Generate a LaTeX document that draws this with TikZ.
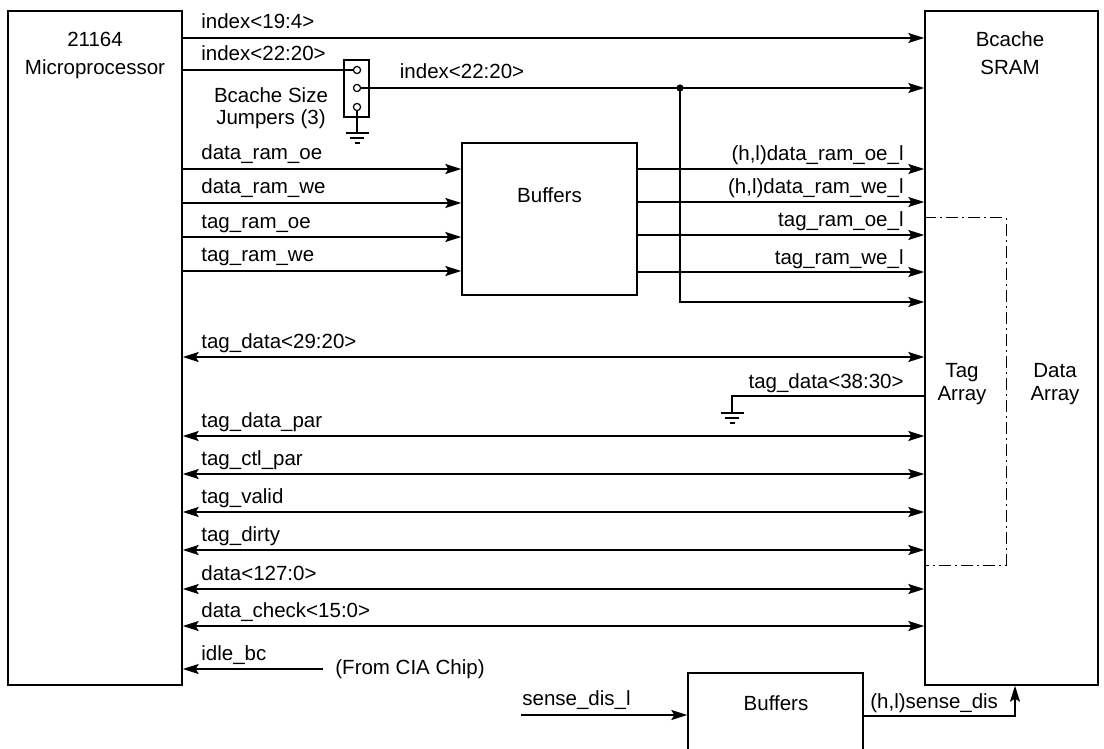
\documentclass[tikz,border=0pt]{standalone}
\usepackage{fontspec}
\setmainfont{Liberation Sans}
\usetikzlibrary{arrows.meta, positioning}

\tikzset{
	box/.style={draw, line width=0.7pt, inner sep=0pt},
	wire/.style={line width=0.7pt},
	sig/.style={wire, -{Stealth[length=8pt,width=5pt,inset=1.5pt]}},
	bus/.style={wire, {Stealth[length=8pt,width=5pt,inset=1.5pt]}-{Stealth[length=8pt,width=5pt,inset=1.5pt]}},
	lbl/.style={anchor=base west, inner sep=0pt, xshift=9pt, yshift=4.5pt},
	rlbl/.style={anchor=base east, inner sep=0pt, xshift=-10pt, yshift=4pt},
	pin/.style={circle, draw, fill=white, line width=0.6pt, inner sep=0pt, minimum size=3.6pt},
}

\begin{document}
\begin{tikzpicture}[x=0.5pt, y=-0.5pt, font=\fontsize{10.25}{12}\selectfont]
	\useasboundingbox (0,0) rectangle (1104,749);
	\node[box, minimum width=87pt, minimum height=337pt] (cpu) at (95,348) {};
	\node[box, minimum width=86.5pt, minimum height=337pt] (sram) at (1011.5,348) {};
	\node[box, minimum width=87.5pt, minimum height=76pt] (buf) at (549.5,219) {};
	\node[box, minimum width=87.5pt, minimum height=65pt] (sbuf) at (775.5,738) {};
	\node[box, minimum width=12.5pt, minimum height=28.5pt] (jmp) at (356.5,88.5) {};

	\node[align=center, font=\fontsize{10.25}{14}\selectfont] (cputxt) at (95,55) {21164\\Microprocessor};
	\node[align=center, font=\fontsize{10.25}{14}\selectfont] (sramtxt) at (1010,53) {Bcache\\SRAM};
	\node (buftxt) at (549.5,195) {Buffers};
	\node (sbuftxt) at (776,703) {Buffers};
	\node[align=center, font=\fontsize{10.25}{11}\selectfont] (jmptxt) at (271,108) {Bcache Size\\Jumpers (3)};
	\node[align=center, font=\fontsize{10.25}{11.5}\selectfont] (tagtxt) at (962,384) {Tag\\Array};
	\node[align=center, font=\fontsize{10.25}{11.5}\selectfont] (datatxt) at (1055,384) {Data\\Array};

	\node[pin] (p1) at (357,70) {};
	\node[pin] (p2) at (357,88) {};
	\node[pin] (p3) at (357,107) {};
	\coordinate (g1) at (357,133);
	\coordinate (g2) at (732,413);
	\coordinate (tap) at (680,88);

	\draw[sig] (cpu.east |- 0,38) -- node[lbl, pos=0] {index<19:4>} (sram.west |- 0,38);
	\draw[wire] (cpu.east |- p1) -- node[lbl, pos=0] {index<22:20>} (p1);
	\draw[sig] (p2) -- node[lbl, pos=0, xshift=10pt] {index<22:20>} (sram.west |- p2);
	\draw[wire] (p3) -- (g1) ++(-11.5,0) -- ++(23,0) (g1) ++(-7,5) -- ++(14,0) (g1) ++(-2.5,10) -- ++(5,0);
	\fill (tap) circle (1.8pt);
	\draw[sig] (tap) |- (sram.west |- 0,302);

	\draw[sig] (cpu.east |- 0,169) -- node[lbl, pos=0] {data\_ram\_oe} (buf.west |- 0,169);
	\draw[sig] (cpu.east |- 0,203) -- node[lbl, pos=0] {data\_ram\_we} (buf.west |- 0,203);
	\draw[sig] (cpu.east |- 0,237) -- node[lbl, pos=0] {tag\_ram\_oe} (buf.west |- 0,237);
	\draw[sig] (cpu.east |- 0,271) -- node[lbl, pos=0] {tag\_ram\_we} (buf.west |- 0,271);
	\draw[sig] (buf.east |- 0,169) -- node[rlbl, pos=1] {(h,l)data\_ram\_oe\_l} (sram.west |- 0,169);
	\draw[sig] (buf.east |- 0,202) -- node[rlbl, pos=1] {(h,l)data\_ram\_we\_l} (sram.west |- 0,202);
	\draw[sig] (buf.east |- 0,235) -- node[rlbl, pos=1] {tag\_ram\_oe\_l} (sram.west |- 0,235);
	\draw[sig] (buf.east |- 0,272) -- node[rlbl, pos=1] {tag\_ram\_we\_l} (sram.west |- 0,272);

	\draw[bus] (cpu.east |- 0,357) -- node[lbl, pos=0] {tag\_data<29:20>} (sram.west |- 0,357);
	\draw[wire] (sram.west |- 0,396) -| node[rlbl, pos=0] {tag\_data<38:30>} (g2);
	\draw[wire] (g2) ++(-11.5,0) -- ++(23,0) (g2) ++(-7,5) -- ++(14,0) (g2) ++(-2.5,10) -- ++(5,0);
	\draw[bus] (cpu.east |- 0,436) -- node[lbl, pos=0] {tag\_data\_par} (sram.west |- 0,436);
	\draw[bus] (cpu.east |- 0,474) -- node[lbl, pos=0] {tag\_ctl\_par} (sram.west |- 0,474);
	\draw[bus] (cpu.east |- 0,512) -- node[lbl, pos=0] {tag\_valid} (sram.west |- 0,512);
	\draw[bus] (cpu.east |- 0,550) -- node[lbl, pos=0] {tag\_dirty} (sram.west |- 0,550);
	\draw[bus] (cpu.east |- 0,589) -- node[lbl, pos=0] {data<127:0>} (sram.west |- 0,589);
	\draw[bus] (cpu.east |- 0,626) -- node[lbl, pos=0] {data\_check<15:0>} (sram.west |- 0,626);

	\node[anchor=west, inner xsep=6pt, inner ysep=0pt] (cia) at (323,669) {(From CIA Chip)};
	\draw[sig] (cia) -- node[lbl, pos=1] {idle\_bc} (cpu.east |- cia);

	\draw[line width=0.5pt, dash pattern=on 6pt off 2pt on 1pt off 2pt] (sram.west |- 0,218) -| (1006,565) -- (sram.west |- 0,565);

	\coordinate (sin) at (521,715);
	\draw[sig] (sin) -- (sbuf.west |- sin);
	\node[anchor=base west, inner sep=0pt] (sinlbl) at (522,705) {sense\_dis\_l};
	\draw[sig] (sbuf.east |- 0,716) -| (sram.south -| 1015,0);
	\node[anchor=base west, inner sep=0pt] (soutlbl) at (870,708) {(h,l)sense\_dis};
\end{tikzpicture}
\end{document}
